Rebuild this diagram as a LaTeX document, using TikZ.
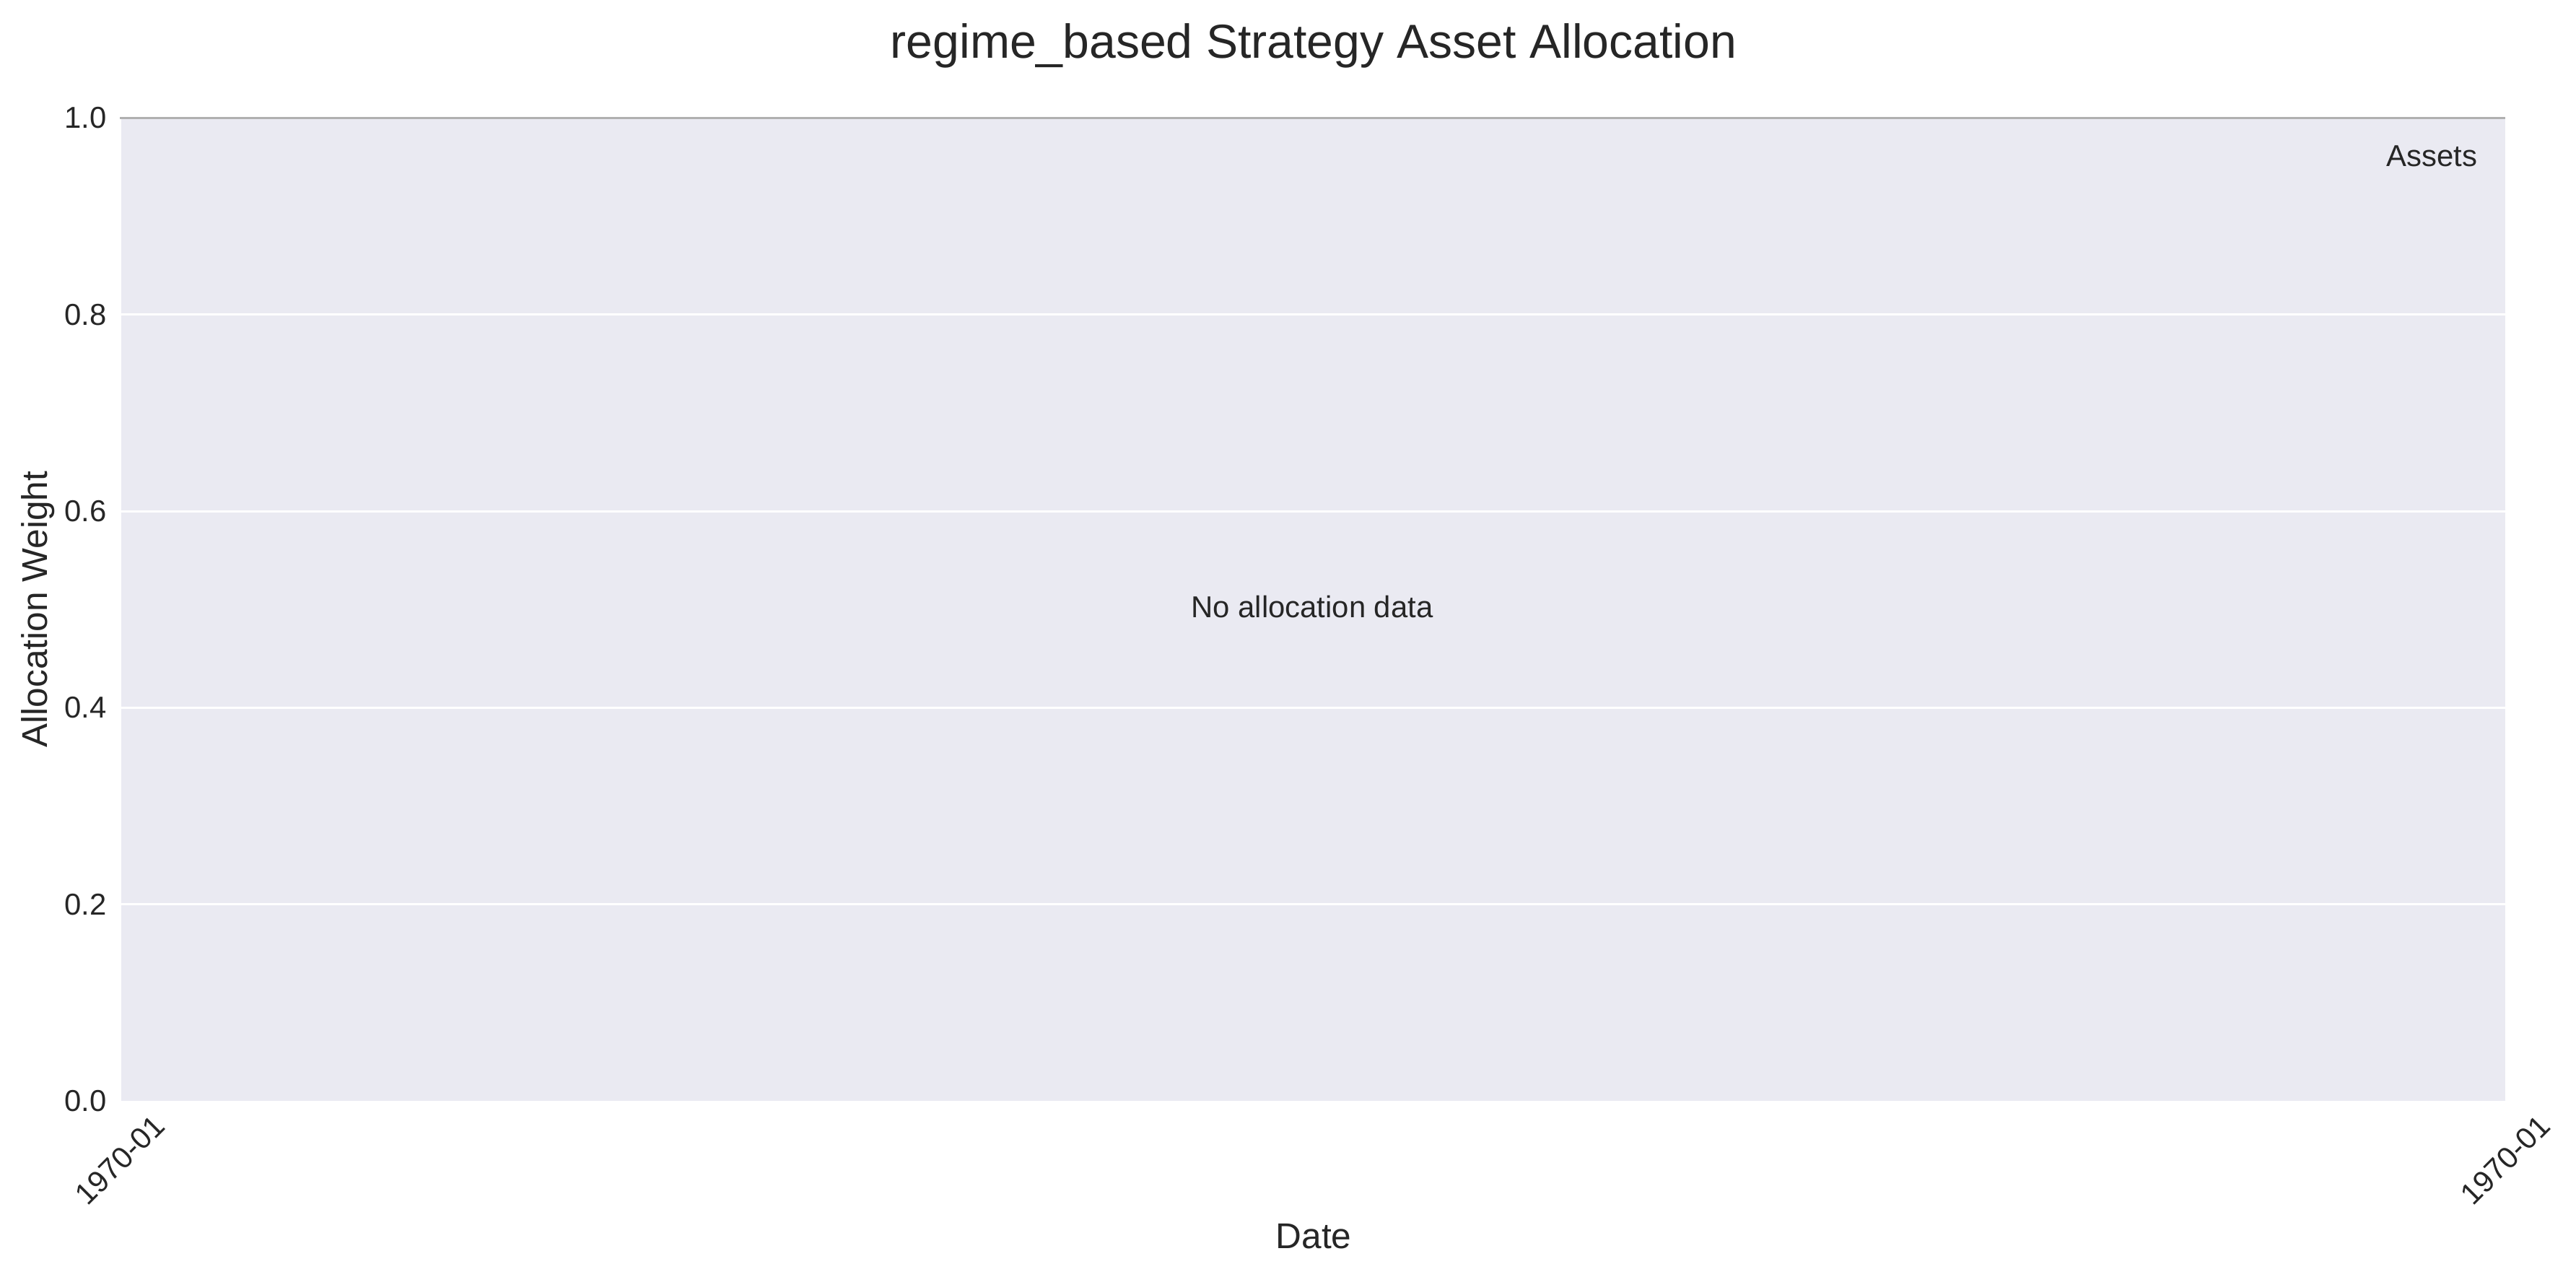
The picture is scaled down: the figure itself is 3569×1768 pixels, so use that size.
\documentclass[tikz,border=0pt]{standalone}
\usepackage{fontspec}
\setmainfont{Liberation Sans}
\usepackage{tikz}
\usetikzlibrary{positioning}
\definecolor{panel}{HTML}{EAEAF2}
\definecolor{inktext}{HTML}{262626}
\definecolor{topline}{HTML}{B0B0B0}

\begin{document}
\begin{tikzpicture}[x=0.01cm,y=-0.01cm,
 tick label/.style={inner sep=0pt,text=inktext,font=\fontsize{11.9pt}{14pt}\selectfont},
 axis label/.style={inner sep=0pt,text=inktext,font=\fontsize{14.1pt}{17pt}\selectfont},
 grid line/.style={draw=white,line width=0.028cm}]

  \useasboundingbox[fill=white] (0,0) rectangle (3569,1768);

  % plot panel
  \fill[panel] (168,163.5) rectangle (3471,1525);
  \foreach \v in {0.2,0.4,0.6,0.8} {
   \draw[grid line] (168,1525-\v*1361.5) -- (3471,1525-\v*1361.5);}
  \draw[topline,line width=0.026cm] (166,163.5) -- (3471,163.5);

  % y ticks
  \foreach \v/\t in {0/0.0, 0.2/0.2, 0.4/0.4, 0.6/0.6, 0.8/0.8, 1/1.0} {
   \node[tick label,anchor=east] (y\t) at (148,1525-\v*1361.5) {\t};}

  % x ticks
  \node[tick label,rotate=45] (xfirst) at (166,1607) {1970-01};
  \node[tick label,rotate=45] (xlast) at (3471,1607) {1970-01};

  % labels
  \node[inner sep=0pt,text=inktext,font=\fontsize{18.8pt}{22pt}\selectfont,anchor=base] (title) at (1820,80) {regime\_based Strategy Asset Allocation};
  \node[axis label,anchor=base] (xlabel) at (1820,1729) {Date};
  \node[axis label,rotate=90,anchor=base] (ylabel) at (65,844) {Allocation Weight};
  \node[tick label,anchor=base] (empty) at (1818,855) {No allocation data};
  \node[tick label,anchor=base east] (legend) at (3433,230) {Assets};
\end{tikzpicture}
\end{document}
